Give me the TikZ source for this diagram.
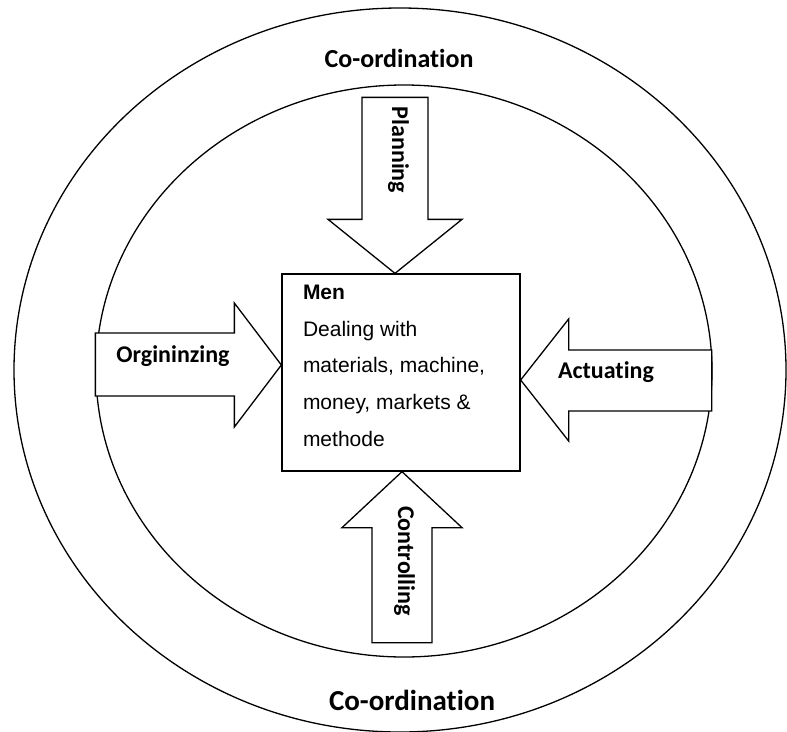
\documentclass[tikz,border=0pt]{standalone}
\usepackage{fontspec}
\setmainfont{Liberation Sans}
\newfontfamily\calibri[Ligatures=NoCommon]{Carlito}
\usetikzlibrary{positioning}

\begin{document}
\begin{tikzpicture}[x=1pt,y=-1pt,line width=1.3pt,
    blockarrow/.style={draw, fill=white, line join=miter},
    steplabel/.style={font=\calibri\bfseries\fontsize{24}{28}\selectfont, inner sep=0pt},
    ringlabel/.style={font=\calibri\bfseries\fontsize{#1}{#1}\selectfont, inner sep=0pt, anchor=base},
    menbox/.style={draw, minimum width=238pt, minimum height=197pt, inner sep=0pt}]
\useasboundingbox (0,0) rectangle (787,731);
\clip (0,0) rectangle (787,731);

% Outer and inner rings
\draw (400,370) ellipse [x radius=386, y radius=362];
\draw (404,371) ellipse [x radius=308, y radius=286];

% Ring labels
\node[ringlabel=26] (coordtop) at (399,67) {Co-ordination};
\node[ringlabel=29] (coordbot) at (412,710) {Co-ordination};

% Central box
\node[menbox] (box) at (401,372.5) {};
\node[below right=11pt and 21pt of box.north west, inner sep=0pt, align=left,
      font=\fontsize{21}{36.75}\selectfont] (boxtext)
    {\textbf{Men}\\Dealing with\\materials, machine,\\money, markets \&\\methode};

% Block arrows (tip on the box, then round the outline)
\draw[blockarrow] ([xshift=-6pt]box.north) -- ++(67,-54) -- ++(-34,0) -- ++(0,-122)
    -- ++(-66,0) -- ++(0,122) -- ++(-34,0) -- cycle;
\draw[blockarrow] ([xshift=1pt]box.south) -- ++(60,56) -- ++(-30,0) -- ++(0,115)
    -- ++(-60,0) -- ++(0,-115) -- ++(-30,0) -- cycle;
\draw[blockarrow] ([yshift=7.5pt]box.west) -- ++(-47,-62) -- ++(0,30) -- ++(-139,0)
    -- ++(0,63) -- ++(139,0) -- ++(0,31) -- cycle;
\draw[blockarrow] ([yshift=-7.5pt]box.east) -- ++(48,-61) -- ++(0,31) -- ++(143,0)
    -- ++(0,61) -- ++(-143,0) -- ++(0,30) -- cycle;

% Arrow labels
\node[steplabel, rotate=-90, anchor=base] (plan) at (392,150) {Planning};
\node[steplabel, rotate=-90, anchor=base] (ctrl) at (398,561) {Controlling};
\node[steplabel, anchor=base] (org) at (173,362) {Orgininzing};
\node[steplabel, anchor=base] (act) at (606,378) {Actuating};
\end{tikzpicture}
\end{document}
